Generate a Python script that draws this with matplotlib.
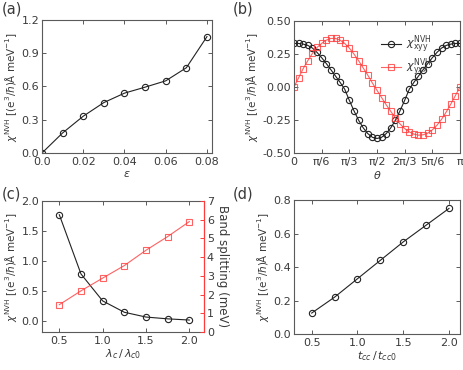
import numpy as np
import matplotlib
matplotlib.use('Agg')
import matplotlib.pyplot as plt

plt.rcParams['font.family'] = ['DejaVu Sans']
plt.rcParams['mathtext.fontset'] = 'dejavusans'
plt.rcParams['font.size'] = 8

# (a) strain dependence
eps = [0.0, 0.01, 0.02, 0.03, 0.04, 0.05, 0.06, 0.07, 0.08]
chi_eps = [0.0, 0.181, 0.332, 0.455, 0.54, 0.594, 0.651, 0.769, 1.05]

# (b) angular dependence, theta in degrees
theta_deg = list(range(0, 181, 5))
chi_xyy = [0.330, 0.330, 0.325, 0.315, 0.295, 0.262, 0.222, 0.178, 0.131, 0.083,
           0.035, -0.017, -0.101, -0.180, -0.251, -0.309, -0.353, -0.381, -0.390,
           -0.381, -0.353, -0.309, -0.251, -0.180, -0.101, -0.017, 0.035, 0.083,
           0.131, 0.178, 0.222, 0.262, 0.295, 0.315, 0.325, 0.330, 0.330]
chi_yxx = [0.0, 0.070, 0.140, 0.200, 0.255, 0.300, 0.330, 0.355, 0.368, 0.368,
           0.355, 0.330, 0.295, 0.250, 0.200, 0.145, 0.090, 0.030, -0.025,
           -0.080, -0.135, -0.185, -0.235, -0.280, -0.315, -0.340, -0.357, -0.365,
           -0.362, -0.350, -0.325, -0.290, -0.245, -0.190, -0.130, -0.065, 0.0]

# (c) SOC scaling
lam = [0.5, 0.75, 1.0, 1.25, 1.5, 1.75, 2.0]
chi_lam = [1.77, 0.78, 0.33, 0.14, 0.06, 0.03, 0.01]
band_split = [1.46, 2.2, 2.88, 3.55, 4.37, 5.1, 5.9]

# (d) hopping scaling
tcc = [0.5, 0.75, 1.0, 1.25, 1.5, 1.75, 2.0]
chi_tcc = [0.125, 0.22, 0.33, 0.44, 0.55, 0.65, 0.75]

ylab = r'$\chi^{\rm NVH}$ [(e$^3$/$\hbar$)Å meV$^{-1}$]'
red = '#ff3b3b'
spine_c = '#5a5a5a'
txt_c = '#3a3a3a'


def style(ax, right=True):
    for s in ax.spines.values():
        s.set_color(spine_c)
        s.set_linewidth(0.8)
    ax.tick_params(direction='in', top=True, right=right, length=3,
                   width=0.7, color=spine_c, labelcolor=txt_c, labelsize=8, pad=2)
    ax.tick_params(axis='x', pad=3)


def black_line(ax, x, y):
    ax.plot(x, y, '-', color='#222222', lw=0.8, marker='o', ms=4.5,
            mfc='none', mec='#222222', mew=0.8)


fig = plt.figure(figsize=(4.63, 3.70), dpi=100)

ax_a = fig.add_axes([0.0907, 0.5865, 0.367, 0.3595])
ax_b = fig.add_axes([0.635, 0.5865, 0.3585, 0.3567])
ax_c = fig.add_axes([0.0907, 0.1027, 0.350, 0.354])
ax_d = fig.add_axes([0.635, 0.0973, 0.3585, 0.362])

# (a)
black_line(ax_a, eps, chi_eps)
ax_a.set_xlim(0, 0.0824)
ax_a.set_ylim(0, 1.2)
ax_a.set_xticks([0, 0.02, 0.04, 0.06, 0.08])
ax_a.set_xticklabels(['0.0', '0.02', '0.04', '0.06', '0.08'])
ax_a.set_yticks([0, 0.3, 0.6, 0.9, 1.2])
ax_a.set_xlabel(r'$\epsilon$', color=txt_c, labelpad=1)
ax_a.set_ylabel(ylab, fontsize=7.5, color=txt_c, labelpad=2)
style(ax_a)

# (b)
theta = np.deg2rad(theta_deg)
ax_b.plot(theta, chi_xyy, '-', color='#222222', lw=0.8, marker='o', ms=4.5,
          mfc='none', mec='#222222', mew=0.8,
          label=r'$\chi^{\rm NVH}_{\rm xyy}$')
ax_b.plot(theta, chi_yxx, '-', color=red, lw=0.8, marker='s', ms=4.5,
          mfc='none', mec=red, mew=0.8, alpha=0.8,
          label=r'$\chi^{\rm NVH}_{\rm yxx}$')
ax_b.set_xlim(0, np.pi)
ax_b.set_ylim(-0.5, 0.5)
ax_b.set_xticks(np.arange(7) * np.pi / 6)
ax_b.set_xticklabels(['0', 'π/6', 'π/3', 'π/2', '2π/3', '5π/6', 'π'])
ax_b.set_yticks([-0.5, -0.25, 0, 0.25, 0.5])
ax_b.set_yticklabels(['-0.50', '-0.25', '0.00', '0.25', '0.50'])
ax_b.set_xlabel(r'$\theta$', color=txt_c, labelpad=1)
ax_b.set_ylabel(ylab, fontsize=7.5, color=txt_c, labelpad=2)
leg = ax_b.legend(loc='upper left', bbox_to_anchor=(0.48, 0.96), frameon=False,
                  fontsize=8, handlelength=1.8, handletextpad=0.4,
                  labelspacing=0.05, borderpad=0.2)
for t in leg.get_texts():
    t.set_color(txt_c)
style(ax_b)

# (c)
black_line(ax_c, lam, chi_lam)
ax_c.set_xlim(0.3, 2.17)
ax_c.set_ylim(-0.19, 2.0)
ax_c.set_xticks([0.5, 1.0, 1.5, 2.0])
ax_c.set_yticks([0, 0.5, 1.0, 1.5, 2.0])
ax_c.set_xlabel(r'$\lambda_c\,/\,\lambda_{c0}$', color=txt_c, labelpad=1)
ax_c.set_ylabel(ylab, fontsize=7.5, color=txt_c, labelpad=2)
style(ax_c, right=False)
ax_c2 = ax_c.twinx()
ax_c2.plot(lam, band_split, '-', color=red, lw=0.8, marker='s', ms=4.5,
           mfc='none', mec=red, mew=0.8, alpha=0.8)
ax_c2.set_ylim(0, 7)
ax_c2.set_yticks(range(8))
ax_c2.set_ylabel('Band splitting (meV)', rotation=270, color=txt_c,
                 fontsize=8.5, labelpad=11)
for s in ax_c2.spines.values():
    s.set_visible(False)
ax_c2.spines['right'].set_visible(True)
ax_c2.spines['right'].set_color(red)
ax_c2.tick_params(axis='y', direction='in', length=3, width=0.7, color=red,
                  labelcolor=txt_c, labelsize=8, pad=2)

# (d)
black_line(ax_d, tcc, chi_tcc)
ax_d.set_xlim(0.307, 2.12)
ax_d.set_ylim(0, 0.8)
ax_d.set_xticks([0.5, 1.0, 1.5, 2.0])
ax_d.set_yticks([0, 0.2, 0.4, 0.6, 0.8])
ax_d.set_xlabel(r'$t_{cc}\,/\,t_{cc0}$', color=txt_c, labelpad=1)
ax_d.set_ylabel(ylab, fontsize=7.5, color=txt_c, labelpad=2)
style(ax_d)

for lab, x, y in [('(a)', 0.0, 0.995), ('(b)', 0.5, 0.995),
                  ('(c)', 0.0, 0.497), ('(d)', 0.5, 0.497)]:
    fig.text(x + 0.003, y, lab, fontsize=10.5, color=txt_c, va='top', ha='left')

fig.savefig('out.png', dpi=100)
